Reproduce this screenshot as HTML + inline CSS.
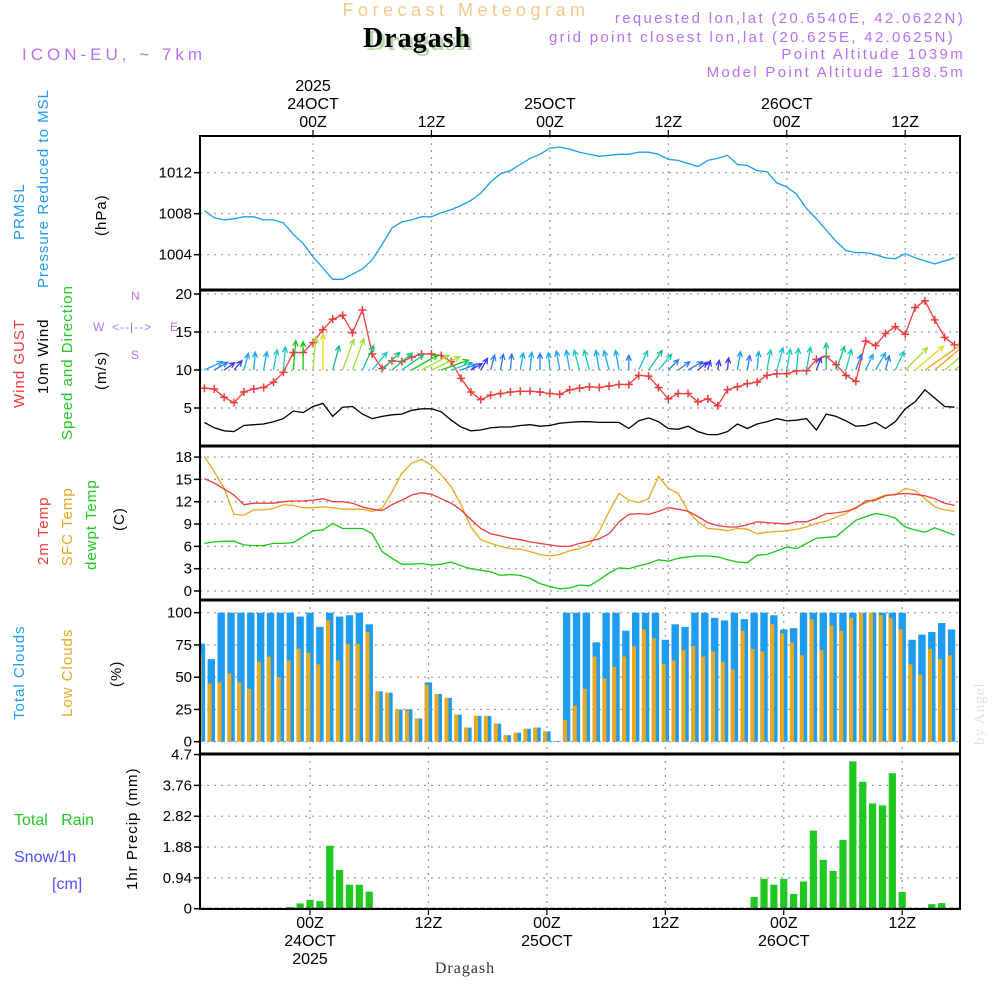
<!DOCTYPE html>
<html><head><meta charset="utf-8">
<style>
html,body{margin:0;padding:0;background:#fff;}
svg{display:block;font-family:"Liberation Sans",sans-serif;}
</style></head>
<body>
<svg id="chart" width="1000" height="1000" viewBox="0 0 1000 1000" xmlns="http://www.w3.org/2000/svg">
<text x="466" y="16" font-size="18" fill="#f5c98a" text-anchor="middle" letter-spacing="4.5">Forecast Meteogram</text>
<text x="420" y="50" font-size="28" font-weight="bold" fill="#b8d8b0" text-anchor="middle" font-family="Liberation Serif, serif" letter-spacing="1">Dragash</text>
<text x="417" y="47" font-size="28" font-weight="bold" fill="#000" text-anchor="middle" font-family="Liberation Serif, serif" letter-spacing="1">Dragash</text>
<text x="22" y="60" font-size="17" fill="#b670f5" letter-spacing="4">ICON-EU, ~ 7km</text>
<g fill="#b670f5" font-size="15" text-anchor="end" letter-spacing="2.3">
<text x="965" y="23">requested lon,lat (20.6540E, 42.0622N)</text>
<text x="955" y="42">grid point closest lon,lat (20.625E, 42.0625N)</text>
<text x="965" y="59">Point Altitude 1039m</text>
<text x="965" y="77">Model Point Altitude 1188.5m</text>
</g>
<g id="g-grid"></g>
<g id="g-data"></g>
<g id="g-frame"></g>
<g id="g-labels"></g>
</svg>
<script>
const hours = [];
for (let h = -11; h <= 65; h++) hours.push(h);
const pressure = [1008.3,1007.6,1007.4,1007.5,1007.7,1007.7,1007.4,1007.4,1007.1,1006.0,1005.1,1003.8,1002.7,1001.6,1001.6,1002.1,1002.6,1003.5,1005.0,1006.6,1007.2,1007.4,1007.7,1007.7,1008.1,1008.4,1008.8,1009.3,1010.0,1011.1,1011.9,1012.2,1012.8,1013.4,1013.8,1014.4,1014.5,1014.3,1014.0,1013.8,1013.6,1013.7,1013.8,1013.8,1014.0,1014.0,1013.8,1013.3,1013.2,1012.9,1012.6,1013.2,1013.4,1013.7,1012.8,1012.7,1012.2,1012.1,1011.0,1010.6,1009.9,1008.5,1007.5,1006.4,1005.3,1004.4,1004.2,1004.2,1004.0,1003.7,1003.6,1004.1,1003.7,1003.4,1003.1,1003.4,1003.7];
const wind10m = [3.1,2.4,2.0,1.9,2.7,2.8,2.9,3.2,3.6,4.6,4.4,5.2,5.6,3.9,5.1,5.2,4.2,3.6,3.9,4.1,4.2,4.7,4.9,4.9,4.5,3.4,2.5,2.0,2.1,2.4,2.5,2.5,2.7,2.8,2.6,2.7,3.0,3.1,3.2,3.2,3.1,3.1,3.1,2.3,3.3,3.7,3.2,2.3,2.2,2.6,1.9,1.5,1.5,1.9,2.9,2.3,2.9,3.2,3.6,3.3,3.4,3.6,2.1,4.2,3.9,3.3,2.6,2.7,3.1,2.3,3.2,4.9,5.8,7.4,6.3,5.2,5.1];
const windGust = [7.6,7.5,6.4,5.7,7.1,7.5,7.7,8.4,9.7,12.3,12.3,13.6,15.3,16.7,17.2,14.9,17.9,12.1,10.2,11.2,11.1,11.7,12.1,12.1,11.9,11.1,8.9,7.1,6.1,6.7,6.9,7.1,7.2,7.2,7.1,6.9,6.8,7.4,7.6,7.8,7.7,7.9,8.1,8.1,9.3,9.2,7.7,6.2,6.9,6.9,5.8,6.2,5.3,7.4,7.8,8.2,8.4,9.3,9.5,9.5,9.9,9.9,11.4,11.8,10.7,9.3,8.5,13.8,13.2,14.8,15.7,14.7,18.2,19.1,16.6,14.3,13.3];
const windDirTilt = [65,60,55,40,15,5,10,10,5,5,0,5,0,15,20,20,25,40,45,50,55,60,62,65,70,70,70,60,30,15,10,5,10,5,0,-5,-10,-10,-15,-15,-10,-15,-10,0,25,35,40,45,55,60,50,15,10,5,10,10,5,10,15,10,5,10,20,0,20,15,20,25,30,15,25,45,50,55,50,50,50];
const temp2m = [15.1,14.5,13.7,12.9,11.6,11.8,11.8,11.8,12.0,12.1,12.1,12.2,12.4,12.0,12.0,11.8,11.3,11.0,10.8,11.6,12.2,12.9,13.2,13.0,12.4,11.8,10.9,9.6,8.4,7.7,7.4,7.1,6.9,6.6,6.4,6.2,6.0,6.0,6.4,6.7,7.0,7.7,9.3,10.3,10.4,10.3,10.7,11.2,11.0,10.7,10.0,9.2,8.8,8.6,8.6,8.9,9.3,9.2,9.1,9.0,9.3,9.3,9.8,10.4,10.5,10.7,11.1,12.1,12.2,12.8,13.0,13.1,13.0,12.8,12.4,11.8,11.5];
const tempSfc = [18.1,16.0,13.8,10.3,10.2,10.9,10.9,11.1,11.6,11.5,11.2,11.2,11.3,11.2,11.0,11.0,11.0,10.7,11.1,13.3,15.8,17.2,17.7,16.9,15.6,14.0,11.6,8.6,6.9,6.4,6.0,5.7,5.6,5.3,4.9,4.7,4.9,5.4,5.7,6.2,8.0,10.7,13.1,12.2,11.9,12.4,15.4,13.8,13.1,10.7,9.3,8.4,8.3,8.1,8.4,8.3,7.7,7.9,8.0,8.1,8.3,8.6,9.1,9.4,9.9,10.4,11.3,11.8,12.4,12.9,12.9,13.8,13.5,12.4,11.3,10.9,10.7];
const dewpoint = [6.4,6.6,6.7,6.7,6.2,6.1,6.1,6.4,6.4,6.5,7.3,8.1,8.2,9.1,8.4,8.4,8.4,7.7,5.3,4.4,3.6,3.6,3.7,3.5,3.6,3.9,3.4,3.0,2.8,2.6,2.1,2.2,2.1,1.7,1.0,0.6,0.3,0.4,0.8,0.7,1.5,2.4,3.1,3.0,3.4,3.7,4.2,4.0,4.4,4.6,4.7,4.7,4.6,4.2,3.9,3.8,4.8,4.9,5.4,5.9,5.7,6.4,7.1,7.2,7.3,8.4,9.5,10.0,10.4,10.2,9.8,8.6,8.2,7.9,8.5,8.0,7.5];
const totalCloud = [76,64,100,100,100,100,100,100,100,100,97,100,89,100,97,98,100,91,39,38,25,25,18,46,37,34,21,11,20,20,14,5,7,10,11,8,0.5,100,100,100,77,100,100,86,100,100,100,79,91,89,100,100,96,94,100,95,100,100,98,87,88,100,100,100,100,100,100,100,100,100,100,100,79,83,85,92,87];
const lowCloud = [68,45,46,53,46,41,62,66,50,63,72,69,60,94,63,76,76,85,39,38,25,24,18,44,37,34,21,11,20,20,14,5,7,10,11,8,0,17,28,41,66,49,58,66,74,87,80,60,63,71,74,66,70,62,56,86,72,70,91,84,77,67,95,71,90,86,96,100,100,98,96,87,60,52,72,64,67];
const precip = [0,0,0,0,0,0,0,0,0,0.05,0.16,0.27,0.23,1.92,1.18,0.73,0.73,0.52,0,0,0,0,0,0,0,0,0,0,0,0,0,0,0,0,0,0,0,0,0,0,0,0,0,0,0,0,0,0,0,0,0,0,0,0,0,0,0.36,0.91,0.73,0.91,0.45,0.83,2.38,1.49,1.15,2.10,4.49,3.87,3.21,3.15,4.13,0.51,0,0,0.14,0.17,0];
const pressTicks = [1004,1008,1012];
const windTicks = [5,10,15,20];
const tempTicks = [0,3,6,9,12,15,18];
const cloudTicks = [0,25,50,75,100];
const precipTicks = ["0","0.94","1.88","2.82","3.76","4.7"];
const timeTicks = [0,12,24,36,48,60];
const timeLabelsZ = ["00Z","12Z","00Z","12Z","00Z","12Z"];
const timeLabelsDay = ["24OCT","","25OCT","","26OCT",""];

const NS = "http://www.w3.org/2000/svg";
const L = 200, R = 960;
const xTop = h => 313 + h * 9.87;
const xBot = h => 310 + h * 9.87;
const yP = p => 172.7 + (1012 - p) * 10.25;
const yW = v => 446 - v * 7.6;
const yT = t => 591 - t * 7.44;
const yC = c => 741.7 - c * 1.29;
const yR = m => 908.7 - m * 32.8;
const panels = [[136,290],[290,446],[446,600],[600,754],[754,909]];

function mk(tag, attrs, parent){ const e=document.createElementNS(NS,tag); for(const k in attrs) e.setAttribute(k,attrs[k]); parent.appendChild(e); return e; }
const gGrid=document.getElementById('g-grid'), gData=document.getElementById('g-data'), gFrame=document.getElementById('g-frame'), gLab=document.getElementById('g-labels');

const defs = mk('defs',{},document.getElementById('chart'));
panels.forEach((p,i)=>{ const c=mk('clipPath',{id:'clip'+i},defs); mk('rect',{x:L,y:p[0],width:R-L,height:p[1]-p[0]},c); });

panels.forEach((p,i)=>{
  const xf = i<3 ? xTop : xBot;
  timeTicks.forEach(t=>{
    const ln = mk('line',{x1:xf(t),x2:xf(t),y1:p[0],y2:p[1],stroke:'#999','stroke-width':1.2,'stroke-dasharray':'2,5'},gGrid);
    
    
  });
});
function hgrid(vals, yf, panelIdx, fmt){
  vals.forEach(v=>{
    const y=yf(parseFloat(v));
    const ln = mk('line',{x1:L,x2:R,y1:y,y2:y,stroke:'#999','stroke-width':1.2,'stroke-dasharray':'2,5'},gGrid);
    
    
    const tk = mk('line',{x1:L-6,x2:L,y1:y,y2:y,stroke:'#000','stroke-width':1.5},gFrame);
    
    
    const tx = mk('text',{x:L-8,y:y+5,'font-size':15,'text-anchor':'end',fill:'#000'},gLab);
    tx.textContent = fmt ? fmt(v) : v;
    
    
  });
}
hgrid(pressTicks,yP,0);
hgrid(windTicks,yW,1);
hgrid(tempTicks,yT,2);
hgrid(cloudTicks,yC,3);
hgrid(precipTicks,yR,4);

function line(vals, xf, yf, color, name, clip, w){
  const d = vals.map((v,i)=>(i?'L':'M')+xf(hours[i]).toFixed(1)+','+yf(v).toFixed(1)).join('');
  const p = mk('path',{d:d,fill:'none',stroke:color,'stroke-width':w||1.3,'clip-path':'url(#clip'+clip+')'},gData);
  
  
}
line(pressure,xTop,yP,'#1e9cf0','pressure-line',0);
line(wind10m,xTop,yW,'#000','wind-10m-line',1);
line(windGust,xTop,yW,'#f03c3c','wind-gust-line',1);
windGust.forEach((v,i)=>{
  const x=xTop(hours[i]), y=yW(v);
  if(x<L||x>R) return;
  const m = mk('path',{d:`M${x-4},${y}H${x+4}M${x},${y-4}V${y+4}`,stroke:'#f03c3c','stroke-width':1.5},gData);
  
  
});
function arrowColor(s){
  if(s<2.2) return '#3a3af0';
  if(s<2.7) return '#2a7cf5';
  if(s<3.2) return '#1ea8f0';
  if(s<3.7) return '#18c8c0';
  if(s<4.3) return '#18c080';
  if(s<4.8) return '#18c818';
  if(s<5.3) return '#a0e030';
  if(s<6) return '#dcdc20';
  return '#f0a020';
}
wind10m.forEach((s,i)=>{
  const x=xTop(hours[i]), y=yW(10);
  const len = s*6.4, a = windDirTilt[i]*Math.PI/180;
  const x2 = x + len*Math.sin(a), y2 = y - len*Math.cos(a);
  const ha = 0.45, hl = 6;
  const bx1 = x2 - hl*Math.sin(a-ha), by1 = y2 + hl*Math.cos(a-ha);
  const bx2 = x2 - hl*Math.sin(a+ha), by2 = y2 + hl*Math.cos(a+ha);
  const c = arrowColor(s);
  const p = mk('path',{d:`M${x.toFixed(1)},${y}L${x2.toFixed(1)},${y2.toFixed(1)}M${bx1.toFixed(1)},${by1.toFixed(1)}L${x2.toFixed(1)},${y2.toFixed(1)}L${bx2.toFixed(1)},${by2.toFixed(1)}`,fill:'none',stroke:c,'stroke-width':1.3,'clip-path':'url(#clip1)'},gData);
  
  
});
line(tempSfc,xTop,yT,'#e8a820','sfc-temp-line',2);
line(temp2m,xTop,yT,'#f03c3c','temp-2m-line',2);
line(dewpoint,xTop,yT,'#18c818','dewpoint-line',2);

totalCloud.forEach((v,i)=>{
  const x=xBot(hours[i]);
  const b = mk('rect',{x:x-3.7,y:yC(v),width:7.4,height:yC(0)-yC(v),fill:'#1e9cf0','clip-path':'url(#clip3)'},gData);
  
  
});
lowCloud.forEach((v,i)=>{
  const x=xBot(hours[i]);
  const b = mk('rect',{x:x-3.7,y:yC(v),width:4,height:yC(0)-yC(v),fill:'#e8a820','clip-path':'url(#clip3)'},gData);
  
  
});
precip.forEach((v,i)=>{
  if(v<=0) return;
  const x=xBot(hours[i]);
  const b = mk('rect',{x:x-3.6,y:yR(v),width:7.2,height:yR(0)-yR(v),fill:'#22c822','clip-path':'url(#clip4)'},gData);
  
  
});
const zl = mk('line',{x1:L,x2:R,y1:yR(0),y2:yR(0),stroke:'#000','stroke-width':2,'stroke-dasharray':'5,2'},gData);



const fr = mk('rect',{x:L,y:136,width:R-L,height:909-136,fill:'none',stroke:'#000','stroke-width':2},gFrame);


[290,446,600,754].forEach(y=>{
  const s = mk('line',{x1:L,x2:R,y1:y,y2:y,stroke:'#000','stroke-width':3},gFrame);
  
  
});
timeTicks.forEach((t,i)=>{
  const tt = mk('line',{x1:xTop(t),x2:xTop(t),y1:130,y2:136,stroke:'#000','stroke-width':1.2},gFrame);
  
  
  const tb = mk('line',{x1:xBot(t),x2:xBot(t),y1:909,y2:915,stroke:'#000','stroke-width':1.2},gFrame);
  
  
  const a = mk('text',{x:xTop(t),y:127,'font-size':16,'text-anchor':'middle'},gLab);
  a.textContent = timeLabelsZ[i];
  
  
  const b = mk('text',{x:xBot(t),y:928,'font-size':16,'text-anchor':'middle'},gLab);
  b.textContent = timeLabelsZ[i];
  
  
  if(timeLabelsDay[i]){
    const c = mk('text',{x:xTop(t),y:109,'font-size':16,'text-anchor':'middle'},gLab);
    c.textContent = timeLabelsDay[i];
    
    
    const d = mk('text',{x:xBot(t),y:946,'font-size':16,'text-anchor':'middle'},gLab);
    d.textContent = timeLabelsDay[i];
    
    
  }
});
const y1 = mk('text',{x:xTop(0),y:91,'font-size':16,'text-anchor':'middle'},gLab);
y1.textContent='2025';


const y2 = mk('text',{x:xBot(0),y:964,'font-size':16,'text-anchor':'middle'},gLab);
y2.textContent='2025';


</script>
<svg style="position:absolute;left:0;top:0" width="1000" height="1000">
<g font-family="Liberation Sans, sans-serif" font-size="15" letter-spacing="1">
<text transform="translate(24,240) rotate(-90)" fill="#1e9cf0">PRMSL</text>
<text transform="translate(48,288) rotate(-90)" fill="#1e9cf0">Pressure Reduced to MSL</text>
<text transform="translate(106,236) rotate(-90)" fill="#000">(hPa)</text>
<text transform="translate(24,408) rotate(-90)" fill="#f03c3c">Wind GUST</text>
<text transform="translate(48,394) rotate(-90)" fill="#000">10m Wind</text>
<text transform="translate(72,440) rotate(-90)" fill="#22c822">Speed and Direction</text>
<text transform="translate(106,390) rotate(-90)" fill="#000">(m/s)</text>
<text transform="translate(48,565) rotate(-90)" fill="#f03c3c">2m Temp</text>
<text transform="translate(72,566) rotate(-90)" fill="#e8a820">SFC Temp</text>
<text transform="translate(96,570) rotate(-90)" fill="#22c822">dewpt Temp</text>
<text transform="translate(124,531) rotate(-90)" fill="#000">(C)</text>
<text transform="translate(24,720) rotate(-90)" fill="#1e9cf0">Total Clouds</text>
<text transform="translate(72,717) rotate(-90)" fill="#e8a820">Low Clouds</text>
<text transform="translate(121,687) rotate(-90)" fill="#000">(%)</text>
<text transform="translate(137,890) rotate(-90)" fill="#000">1hr Precip (mm)</text>
<text transform="translate(984,745) rotate(-90)" fill="#dde4dd" font-family="Liberation Serif, serif">by Angel</text>
</g>
<g font-family="Liberation Sans, sans-serif" font-size="16">
<text x="14" y="825" fill="#22c822" xml:space="preserve">Total   Rain</text>
<text x="14" y="862" fill="#5050ff">Snow/1h</text>
<text x="52" y="889" fill="#5050ff">[cm]</text>
</g>
<g fill="#b670f5" font-size="12" font-family="Liberation Sans, sans-serif">
<text x="131" y="300">N</text>
<text x="93" y="331">W</text>
<text x="112" y="331" letter-spacing="1">&lt;--|--&gt;</text>
<text x="170" y="331">E</text>
<text x="131" y="359">S</text>
</g>
<text x="465" y="973" font-size="16" text-anchor="middle" fill="#333" font-family="Liberation Serif, serif" letter-spacing="1">Dragash</text>
</svg>
</body></html>
